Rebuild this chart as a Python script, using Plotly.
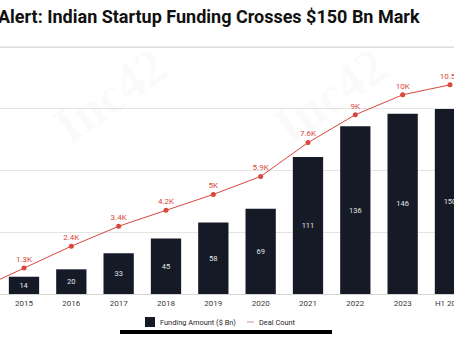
import plotly.graph_objects as go

years = ["2014", "2015", "2016", "2017", "2018", "2019", "2020", "2021", "2022", "2023", "H1 2024"]
funding = [8, 14, 20, 33, 45, 58, 69, 111, 136, 146, 150]
deals = [0.2, 1.3, 2.4, 3.4, 4.2, 5.0, 5.9, 7.6, 9.0, 10.0, 10.5]
deal_labels = ["", "1.3K", "2.4K", "3.4K", "4.2K", "5K", "5.9K", "7.6K", "9K", "10K", "10.5K"]
bar_labels = [str(v) for v in funding]
legend_names = ["Funding Amount ($ Bn)", "Deal Count"]
grid_vals = [0, 50, 100, 150, 200]

RED = "#d9473d"
NAVY = "#151a26"
H = 248.0  # plot height in px


def py(ypx):
    return (294 - ypx) / H


fig = go.Figure()
fig.add_trace(go.Bar(
    x=years, y=funding, name=legend_names[0],
    marker=dict(color=NAVY, line=dict(width=0)),
    text=bar_labels, textposition="inside", insidetextanchor="middle",
    textfont=dict(color="#e6e6e6", size=7.5, family="Roboto"),
))
fig.add_trace(go.Scatter(
    x=years, y=deals, name=legend_names[1], yaxis="y2",
    mode="lines+markers+text",
    line=dict(color=RED, width=1),
    marker=dict(color=RED, size=5),
    text=deal_labels, textposition="top center",
    textfont=dict(color=RED, size=8, family="Roboto"),
))

wm = dict(color="rgba(0,0,0,0.018)", size=52, family="Georgia, serif")
annotations = [
    dict(text="<b>Alert: Indian Startup Funding Crosses $150 Bn Mark</b>",
         xref="paper", yref="paper", x=0, xshift=-4, y=py(16),
         xanchor="left", yanchor="middle", showarrow=False,
         font=dict(family="Roboto", size=18, color="#111111")),
    dict(text="<b>Inc42</b>", xref="paper", yref="paper", x=110 / 454, y=py(95),
         xanchor="center", yanchor="middle",
         showarrow=False, textangle=-35, font=wm),
    dict(text="<b>Inc42</b>", xref="paper", yref="paper", x=330 / 454, y=py(95),
         xanchor="center", yanchor="middle",
         showarrow=False, textangle=-35, font=wm),
    # custom legend texts
    dict(text=legend_names[0], xref="paper", yref="paper", x=158 / 454, y=py(322),
         xanchor="left", yanchor="middle", showarrow=False,
         font=dict(family="Roboto", size=7.4, color="#262626")),
    dict(text=legend_names[1], xref="paper", yref="paper", x=257 / 454, y=py(322),
         xanchor="left", yanchor="middle", showarrow=False,
         font=dict(family="Roboto", size=7.4, color="#262626")),
]

shapes = [
    dict(type="line", xref="paper", yref="y", x0=0, x1=1, y0=grid_vals[-1], y1=grid_vals[-1],
         line=dict(color="#dcdcdc", width=1.3), layer="above"),
    dict(type="rect", xref="paper", yref="paper",
         x0=145 / 454, x1=155 / 454, y0=py(317), y1=py(327),
         fillcolor=NAVY, line=dict(width=0)),
    dict(type="line", xref="paper", yref="paper",
         x0=247 / 454, x1=254 / 454, y0=py(322), y1=py(322),
         line=dict(color="#d8a8a4", width=1.2)),
    dict(type="rect", xref="paper", yref="paper",
         x0=120 / 454, x1=332 / 454, y0=py(330), y1=py(334),
         fillcolor="black", line=dict(width=0)),
]

fig.update_layout(
    width=454, height=341,
    margin=dict(l=0, r=0, t=46, b=47, autoexpand=False),
    paper_bgcolor="white", plot_bgcolor="white",
    bargap=0.36,
    showlegend=False,
    xaxis=dict(type="category", range=[0.493, 10.085], showgrid=False, automargin=False,
               ticks="", tickfont=dict(family="Roboto", size=8, color="#3a3a3a"),
               ticklabelstandoff=3,
               ticklabeloverflow="allow", showline=False, zeroline=False),
    yaxis=dict(range=[0, 201], tickvals=grid_vals, showticklabels=False,
               gridcolor="#e4e4e4", gridwidth=1, automargin=False,
               zeroline=True, zerolinecolor="#d4d4d4", zerolinewidth=1),
    yaxis2=dict(range=[0, 12.45], overlaying="y", side="right", showgrid=False,
                showticklabels=False, zeroline=False, automargin=False),
    annotations=annotations,
    shapes=shapes,
)

fig.write_html("out.html")
